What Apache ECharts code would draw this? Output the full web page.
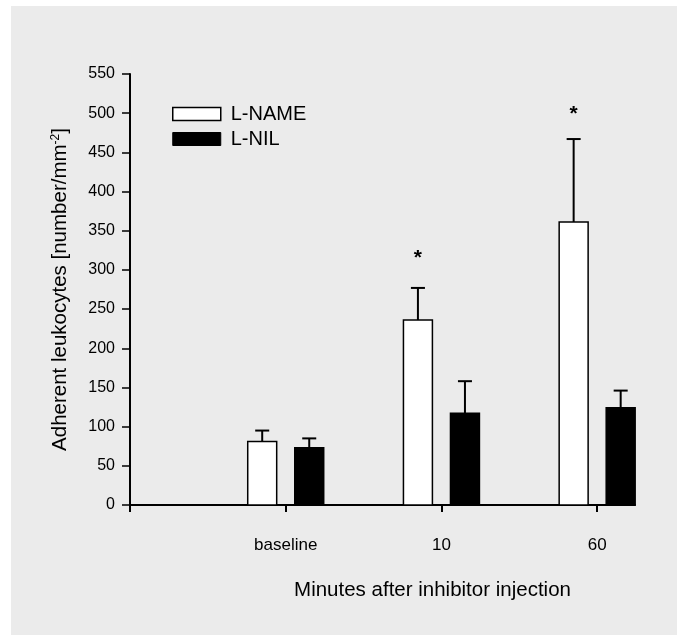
<!DOCTYPE html>
<html><head><meta charset="utf-8">
<script src="https://cdn.jsdelivr.net/npm/echarts@6/dist/echarts.min.js"></script>
<style>html,body{margin:0;padding:0;background:#fff}#c{width:677px;height:635px}</style>
</head><body><div id="c"></div>
<script>
// ---- data ----
const categories = ['', 'baseline', '10', '60'];
const seriesNames = ['L-NAME', 'L-NIL'];
const lnameMean = [null, 81, 236, 361];
const lnameErr  = [null, 14, 41, 106];
const lnilMean  = [null, 73, 117, 124];
const lnilErr   = [null, 12, 41, 22];
const lnameStar = [null, null, 320, 504]; // asterisk heights (significance)
const yMin = 0, yMax = 550, yStep = 50;
const xTicks = [0, 1, 2, 3];

// ---- style ----
const F = '"Liberation Sans", Arial, Helvetica, sans-serif';
const BAR_W = 0.186, OFF = 0.151, CAP_W = 0.09;

function toData(mean, err) {
  const out = [];
  mean.forEach((m, i) => { if (m != null) out.push([i, m, err[i]]); });
  return out;
}
function starData(arr) {
  const out = [];
  arr.forEach((s, i) => { if (s != null) out.push([i, s]); });
  return out;
}
function makeRender(offset, fill) {
  return function (params, api) {
    const x = api.value(0), v = api.value(1), e = api.value(2);
    const unit = api.size([1, 0])[0];
    const base = api.coord([x, 0]);
    const cx = base[0] + offset * unit;
    const y0 = base[1];
    const y1 = api.coord([x, v])[1];
    const y2 = api.coord([x, v + e])[1];
    const bw = BAR_W * unit, cw = CAP_W * unit;
    return {
      type: 'group',
      children: [
        { type: 'line', shape: { x1: cx, y1: y1, x2: cx, y2: y2 }, style: { stroke: '#000', lineWidth: 2 } },
        { type: 'line', shape: { x1: cx - cw / 2, y1: y2, x2: cx + cw / 2, y2: y2 }, style: { stroke: '#000', lineWidth: 2 } },
        { type: 'rect', shape: { x: cx - bw / 2, y: y1, width: bw, height: y0 - y1 }, style: { fill: fill, stroke: '#000', lineWidth: 1.5 } }
      ]
    };
  };
}

const chart = echarts.init(document.getElementById('c'), null, { renderer: 'canvas' });
chart.setOption({
  animation: false,
  backgroundColor: '#fff',
  graphic: { elements: [{ type: 'rect', z: -100, silent: true, shape: { x: 11, y: 6, width: 666, height: 629 }, style: { fill: '#ebebeb' } }] },
  grid: { left: 130, right: 42, top: 74, bottom: 130, containLabel: false },
  legend: {
    orient: 'vertical', left: 172, top: 104, padding: 0, itemWidth: 48, itemHeight: 13, itemGap: 5,
    textStyle: { fontSize: 20, color: '#000', fontFamily: F, padding: [0, 0, 0, 5] },
    data: [
      { name: seriesNames[0], icon: 'rect', itemStyle: { color: '#fff', borderColor: '#000', borderWidth: 1.5 } },
      { name: seriesNames[1], icon: 'rect', itemStyle: { color: '#000', borderColor: '#000', borderWidth: 1 } }
    ]
  },
  xAxis: {
    type: 'value', min: 0, max: 3.243, interval: 1,
    axisLine: { show: true, onZero: false, lineStyle: { color: '#000', width: 2 } },
    axisTick: { show: true, length: 7, customValues: xTicks, lineStyle: { color: '#000', width: 2 } },
    axisLabel: { customValues: xTicks.slice(1), margin: 32, fontSize: 17, color: '#000', fontFamily: F,
      formatter: v => categories[Math.round(v)] },
    splitLine: { show: false },
    name: 'Minutes after inhibitor injection', nameLocation: 'middle', nameGap: 75,
    nameTextStyle: { fontSize: 20.5, color: '#000', fontFamily: F, padding: [0, 0, 0, 100] }
  },
  yAxis: {
    type: 'value', min: yMin, max: yMax, interval: yStep,
    axisLine: { show: true, lineStyle: { color: '#000', width: 2 } },
    axisTick: { show: true, length: 8, lineStyle: { color: '#000', width: 1.5 } },
    axisLabel: { margin: 15, fontSize: 16, color: '#000', fontFamily: F },
    splitLine: { show: false },
    name: 'Adherent leukocytes [number/mm{sup|-2}]', nameLocation: 'middle', nameGap: 59,
    nameTextStyle: { fontSize: 20.5, color: '#000', fontFamily: F,
      rich: { sup: { fontSize: 12, color: '#000', fontFamily: F, verticalAlign: 'top' } } }
  },
  series: [
    { name: seriesNames[0], type: 'custom', renderItem: makeRender(-OFF, '#fff'),
      itemStyle: { color: '#fff', borderColor: '#000', borderWidth: 1.5 },
      encode: { x: 0, y: 1 }, data: toData(lnameMean, lnameErr) },
    { name: seriesNames[1], type: 'custom', renderItem: makeRender(OFF, '#000'),
      itemStyle: { color: '#000' },
      encode: { x: 0, y: 1 }, data: toData(lnilMean, lnilErr) },
    { name: 'sig', type: 'custom',
      renderItem: function (params, api) {
        const unit = api.size([1, 0])[0];
        const p = api.coord([api.value(0), api.value(1)]);
        return { type: 'text', x: p[0] - OFF * unit, y: p[1] + 4,
          style: { text: '*', font: 'bold 21px ' + F, fill: '#000', align: 'center', verticalAlign: 'middle' } };
      },
      encode: { x: 0, y: 1 }, data: starData(lnameStar) }
  ]
});
</script></body></html>
